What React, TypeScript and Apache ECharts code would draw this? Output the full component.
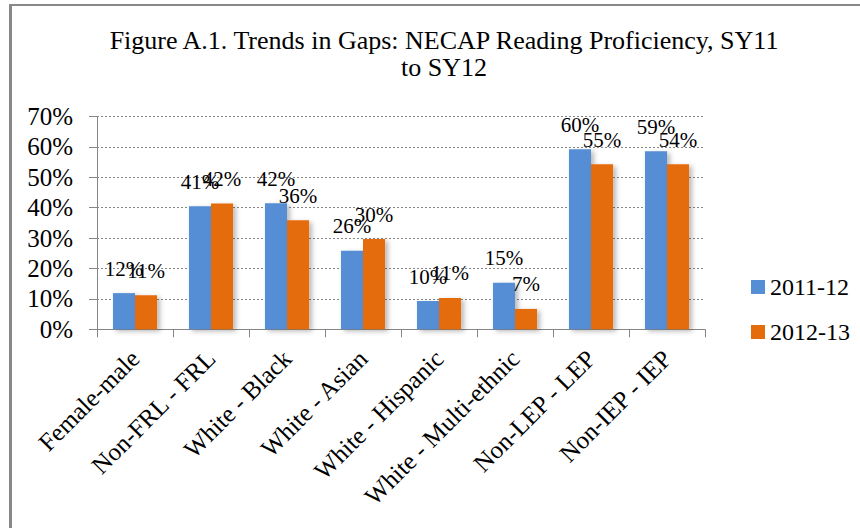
import React, { useEffect, useRef } from "react";
import * as echarts from "echarts";

const categories = [
  "Female-male",
  "Non-FRL - FRL",
  "White - Black",
  "White - Asian",
  "White - Hispanic",
  "White - Multi-ethnic",
  "Non-LEP - LEP",
  "Non-IEP - IEP",
];
const seriesNames = ["2011-12", "2012-13"];
const values2011 = [11.9, 40.5, 41.5, 25.8, 9.3, 15.3, 59.2, 58.6];
const values2012 = [11.2, 41.4, 35.9, 29.7, 10.3, 6.7, 54.3, 54.3];
const labels2011 = ["12%", "41%", "42%", "26%", "10%", "15%", "60%", "59%"];
const labels2012 = ["11%", "42%", "36%", "30%", "11%", "7%", "55%", "54%"];
const yTicks = [0, 10, 20, 30, 40, 50, 60, 70];

const FONT = "'Liberation Serif', 'Times New Roman', serif";
const BLUE = "#558ed5";
const ORANGE = "#e46c0a";
const GRAY = "#868686";

export default function App() {
  const ref = useRef<HTMLDivElement>(null);
  useEffect(() => {
    if (!ref.current) return;
    const chart = echarts.init(ref.current, undefined, { renderer: "svg" });
    const barShadow = {
      shadowBlur: 5,
      shadowOffsetX: 3,
      shadowOffsetY: 2,
      shadowColor: "rgba(0,0,0,0.28)",
    };
    const mkSeries = (name: string, data: number[], labels: string[], color: string) => ({
      name,
      type: "bar",
      data,
      barGap: "0%",
      barCategoryGap: "42%",
      itemStyle: { color, ...barShadow },
      label: {
        show: true,
        position: "top",
        distance: 14,
        fontFamily: FONT,
        fontSize: 21,
        color: "#000",
        formatter: (p: any) => labels[p.dataIndex],
      },
    });
    chart.setOption({
      animation: false,
      backgroundColor: "#fff",
      title: {
        text: "Figure A.1. Trends in Gaps: NECAP Reading Proficiency, SY11\nto SY12",
        left: 439,
        top: 22,
        textAlign: "center",
        textStyle: {
          fontFamily: FONT,
          fontSize: 26,
          fontWeight: "normal",
          color: "#000",
          lineHeight: 27,
        },
      },
      legend: {
        orient: "vertical",
        left: 746,
        top: 270,
        itemWidth: 14,
        itemHeight: 14,
        itemGap: 21,
        icon: "rect",
        data: seriesNames,
        textStyle: { fontFamily: FONT, fontSize: 24, color: "#000" },
      },
      grid: { left: 97, right: 155, top: 116.5, bottom: 198.7, containLabel: false },
      xAxis: {
        type: "category",
        data: categories,
        axisLine: { lineStyle: { color: GRAY, width: 1 } },
        axisTick: { show: true, length: 8, lineStyle: { color: GRAY } },
        axisLabel: {
          rotate: 45,
          margin: 25,
          interval: 0,
          fontFamily: FONT,
          fontSize: 25,
          color: "#000",
        },
      },
      yAxis: {
        type: "value",
        min: 0,
        max: 70,
        interval: 10,
        axisLine: { show: true, lineStyle: { color: GRAY } },
        axisTick: { show: true, length: 8, lineStyle: { color: GRAY } },
        splitLine: { show: true, lineStyle: { color: GRAY, type: [2, 2], width: 1 } },
        axisLabel: {
          margin: 24,
          fontFamily: FONT,
          fontSize: 25,
          color: "#000",
          formatter: (v: number) => (yTicks.includes(v) ? `${v}%` : ""),
        },
      },
      series: [
        mkSeries(seriesNames[0], values2011, labels2011, BLUE),
        mkSeries(seriesNames[1], values2012, labels2012, ORANGE),
      ],
      graphic: [
        {
          type: "line",
          shape: { x1: 10.5, y1: 4, x2: 10.5, y2: 528 },
          style: { stroke: "#888", lineWidth: 3 },
        },
        {
          type: "line",
          shape: { x1: 9, y1: 5, x2: 860, y2: 5 },
          style: { stroke: "#888", lineWidth: 2 },
        },
      ],
    });
    return () => chart.dispose();
  }, []);
  return (
    <div
      ref={ref}
      style={{ position: "absolute", left: 0, top: 0, width: 860, height: 528 }}
    />
  );
}
